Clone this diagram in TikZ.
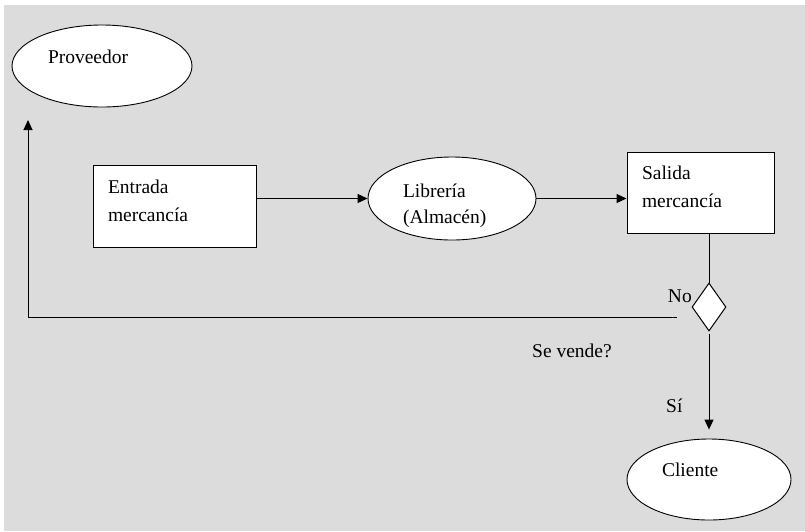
\documentclass[tikz,border=0pt]{standalone}
\usepackage{fontspec}
\usepackage{tikz}
\usepackage{xcolor}
\usetikzlibrary{positioning,shapes,arrows.meta}
\setmainfont{Liberation Serif}
\definecolor{fondo}{RGB}{220,220,220}

\begin{document}
\begin{tikzpicture}[x=1pt,y=-1pt,
  caja/.style={draw, fill=white, rectangle, line width=1pt, inner xsep=15pt, inner ysep=0pt, align=left, text height=13.5pt, text depth=39.5pt},
  ovalo/.style={draw, fill=white, ellipse, line width=0.9pt, inner sep=0pt, align=left},
  rombo/.style={draw, fill=white, diamond, line width=1pt, inner sep=0pt},
  flecha/.style={line width=1pt, -{Triangle[length=10pt,width=9pt]}},
  linea/.style={line width=1pt}]
\tikzstyle{every node}+=[font=\fontsize{19.5}{28}\selectfont]
\useasboundingbox (0,0) rectangle (805,531);
\fill [fondo] (4,5) rectangle (805,531);
% figuras
\node [ovalo, minimum width=180pt, minimum height=82pt, text width=108pt, text height=13.5pt, text depth=19pt] (prov) at (102,66) {Proveedor};
\node [caja, text width=133pt, minimum height=82pt] (entrada) at (174.5,206) {Entrada\\mercancía};
\node [ovalo, minimum width=168pt, minimum height=83pt, text width=98pt, text height=28pt, font=\fontsize{19.5}{26}\selectfont] (libreria) at (452,198.5) {Librería\\(Almacén)};
\node [caja, text width=117pt, minimum height=81pt] (salida) at (700.5,192.5) {Salida\\mercancía};
\node [rombo, minimum width=34pt, minimum height=48pt] (dec) at (709,307) {};
\node [ovalo, minimum width=164pt, minimum height=81pt, text width=94pt, text height=13.5pt, text depth=20pt] (cliente) at (709,479.5) {Cliente};
% textos
\node [anchor=base east, inner sep=0pt] (no) at (692,302) {No};
\node [anchor=base west, inner sep=0pt] (vende) at (532,357) {Se vende?};
\node [anchor=base west, inner sep=0pt] (si) at (666,412) {Sí};
% flechas
\coordinate (nofin) at (677,317);
\coordinate (provfin) at (28,120);
\draw [flecha] (entrada.east |- libreria.west) -- (libreria.west);
\draw [flecha] (libreria.east) -- (libreria.east -| salida.west);
\draw [linea] (dec.north |- salida.south) -- (dec.north);
\draw [flecha, shorten <=2pt, shorten >=9pt] (dec.south) -- (cliente.north);
\draw [flecha] (nofin) -| (provfin);
\end{tikzpicture}
\end{document}
